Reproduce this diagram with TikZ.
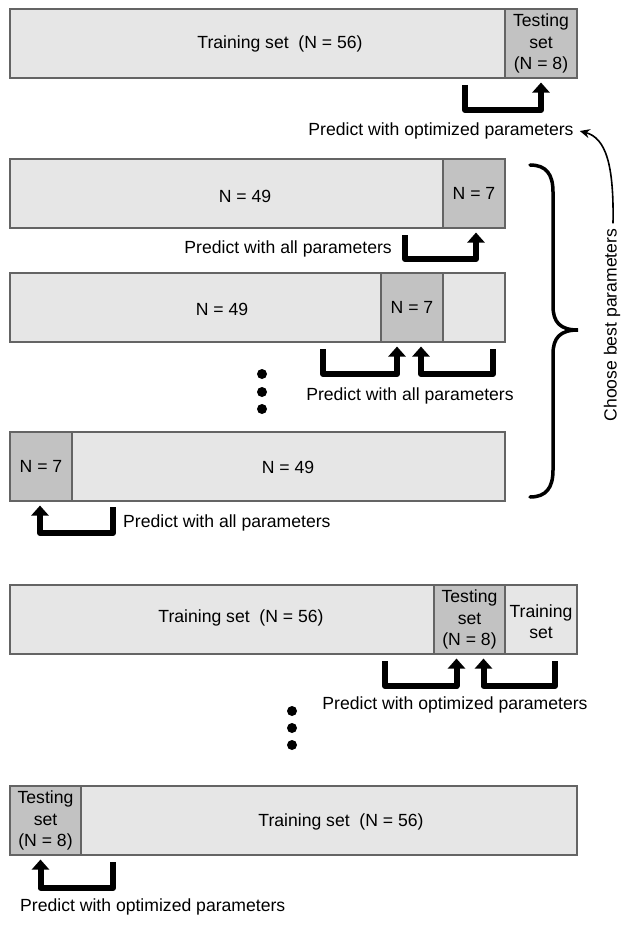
\documentclass[tikz,border=0pt]{standalone}
\usepackage{fontspec}
\setmainfont{Liberation Sans}
\usetikzlibrary{arrows.meta,calc}
\definecolor{lightseg}{RGB}{230,230,230}
\definecolor{darkseg}{RGB}{194,194,194}
\definecolor{segline}{RGB}{100,100,100}
\tikzset{
  seg/.style={draw=segline,line width=1.1pt,inner sep=0pt,minimum height=69pt,fill=lightseg},
  testseg/.style={seg,fill=darkseg},
  lbl/.style={font=\fontsize{17.6}{21.5}\selectfont,align=center,inner sep=0pt},
  bigarrow/.style={line width=6pt,line join=round,-{Triangle[length=10pt,width=17pt]}},
  dotmark/.style={circle,fill=black,inner sep=0pt,minimum size=10pt},
  thinarrow/.style={line width=1.6pt,-{Stealth[length=10pt,width=9pt]}},
}
\begin{document}
\begin{tikzpicture}[x=1pt,y=-1pt]
\useasboundingbox (0,0) rectangle (629,925);
% ---- Box 1
\node[seg,minimum width=495pt] (tr1) at (257.5,43.5) {};
\node[testseg,minimum width=72pt] (te1) at (541,43.5) {};
\node[lbl] (t1) at (280,44) {Training set\ \ (N = 56)};
\node[lbl] (t1b) at (te1.center) {Testing\\set\\(N = 8)};
\coordinate (a1) at (465,85);
\draw[bigarrow] (a1) -- ++(0,25) -| ([yshift=-4pt]te1.south);
\node[lbl] (p1) at (441,131) {Predict with optimized parameters};
% ---- Box 2
\node[seg,minimum width=433pt] (b2a) at (226.5,193.5) {};
\node[testseg,minimum width=62pt] (b2b) at (474,193.5) {};
\node[lbl] at (245,196) {N = 49};
\node[lbl] at (b2b.center) {N = 7};
\coordinate (a2) at (405,235);
\draw[bigarrow] (a2) -- ++(0,24) -| ([xshift=2pt,yshift=-4pt]b2b.south);
\node[lbl,anchor=east] (p2) at (392,249) {Predict with all parameters};
% ---- Box 3
\node[seg,minimum width=371pt] (b3a) at (195.5,307.5) {};
\node[testseg,minimum width=62pt] (b3b) at (412,307.5) {};
\node[seg,minimum width=62pt] (b3c) at (474,307.5) {};
\node[lbl] at (222,309) {N = 49};
\node[lbl] at (b3b.center) {N = 7};
\coordinate (a3l) at (323,349);
\coordinate (a3r) at (493,349);
\draw[bigarrow] (a3l) -- ++(0,25) -| ([xshift=-15pt,yshift=-4pt]b3b.south);
\draw[bigarrow] (a3r) -- ++(0,25) -| ([xshift=9pt,yshift=-4pt]b3b.south);
\node[lbl] (p3) at (410,396) {Predict with all parameters};
\node[dotmark] (d1) at (262,374) {};
\node[dotmark] (d2) at (262,392) {};
\node[dotmark] (d3) at (262,409) {};
% ---- Box 4
\node[testseg,minimum width=62pt] (b4a) at (41,466.5) {};
\node[seg,minimum width=433pt] (b4b) at (288.5,466.5) {};
\node[lbl] at (b4a.center) {N = 7};
\node[lbl] at (288,467) {N = 49};
\coordinate (a4) at (113,507);
\draw[bigarrow] (a4) -- ++(0,26) -| ([xshift=-1pt,yshift=-4pt]b4a.south);
\node[lbl,anchor=west] (p4) at (123,523) {Predict with all parameters};
% ---- Brace and choose
\draw[line width=3.5pt,line cap=round]
  (530,165) .. controls (546,165) and (553,174) .. (553,192)
  -- (553,306) .. controls (553,322) and (560,330) .. (578,330)
  .. controls (560,330) and (553,338) .. (553,354)
  -- (553,470) .. controls (553,488) and (546,497) .. (530,497);
\node[lbl,rotate=90] (cb) at (612,325) {Choose best parameters};
\draw[thinarrow] ([xshift=1pt,yshift=5pt]cb.east) .. controls (614,165) and (606,138) .. ([xshift=6pt]p1.east);
% ---- Box 5
\node[seg,minimum width=424pt] (b5a) at (222,619.5) {};
\node[testseg,minimum width=71pt] (b5b) at (469.5,619.5) {};
\node[seg,minimum width=72pt] (b5c) at (541,619.5) {};
\node[lbl] at (241,618) {Training set\ \ (N = 56)};
\node[lbl] at (b5b.center) {Testing\\set\\(N = 8)};
\node[lbl] at ([yshift=-2pt]b5c.center) {Training\\set};
\coordinate (a5l) at (385,661);
\coordinate (a5r) at (555,661);
\draw[bigarrow] (a5l) -- ++(0,25) -| ([xshift=-13pt,yshift=-4pt]b5b.south);
\draw[bigarrow] (a5r) -- ++(0,25) -| ([xshift=14pt,yshift=-4pt]b5b.south);
\node[lbl] (p5) at (455,705) {Predict with optimized parameters};
\node[dotmark] (d4) at (292,711) {};
\node[dotmark] (d5) at (292,728) {};
\node[dotmark] (d6) at (292,745) {};
% ---- Box 6
\node[testseg,minimum width=71pt] (b6a) at (45.5,820.5) {};
\node[seg,minimum width=496pt] (b6b) at (329,820.5) {};
\node[lbl] at (b6a.center) {Testing\\set\\(N = 8)};
\node[lbl] at (341,822) {Training set\ \ (N = 56)};
\coordinate (a6) at (113,862);
\draw[bigarrow] (a6) -- ++(0,26) -| ([xshift=-5pt,yshift=-4pt]b6a.south);
\node[lbl,anchor=west] (p6) at (20,907) {Predict with optimized parameters};
\end{tikzpicture}
\end{document}
